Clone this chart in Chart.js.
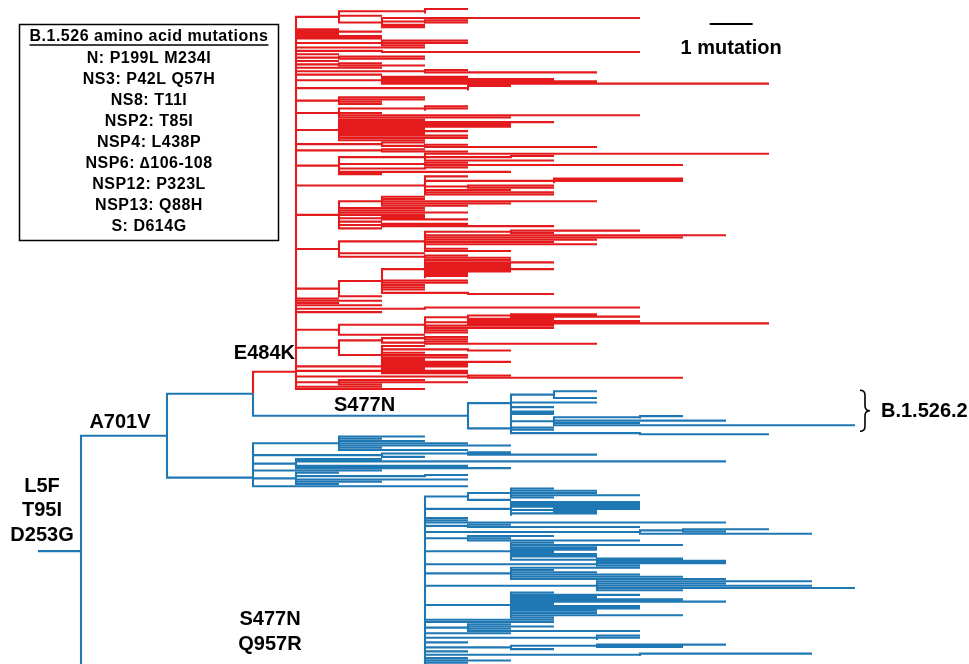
<!DOCTYPE html>
<html>
<head>
<meta charset="utf-8">
<script src="https://cdn.jsdelivr.net/npm/chart.js@4.4.1/dist/chart.umd.min.js"></script>
<style>
  html, body { margin: 0; padding: 0; background: #fff; }
  #box { width: 969px; height: 664px; }
</style>
</head>
<body>
<div id="box"><canvas id="chart" width="969" height="664"></canvas></div>
<script>
// branch lengths in mutations: a number is a tip, [length, ...children] is a node
const rootLength = 1       // L5F T95I D253G
const a701vLength = 2      // A701V
const splitLength = 2      // node before E484K / S477N

// E484K lineage (red)
const redClade = [1,
  [0, [0, [0, [0,
    [1, [2, 1, 0, 0], 1, [1, 6, [1, 1, 1], 1, 1]],
    1, 2, 1, 2, 2, [2, 2, 2, 1], 3,
    [2, 0, 6],
    1, [1, 2, 2], 1, [1, 1, 2], 2,
    [3, 1, 4],
    2,
    [2, 2, 4, 5, 9],
    [4, 1, 0, 0],
    0, 0,
    [1, 2, 2, 1, 1],
    [1, [2, 1, 1, 0], 1, 7, 4],
    [1, 2, 5, 4, 4, 2, 3, 2, 3, 3, 2],
    [2, 1, [1, 1, 4]],
    [2, 1, 2],
    [1, [2, 8, [2, 1, 0], 3], [2, 1, 6], [2, 1, 0], [1, 3], 1],
    [3, 1, [3, 3, 3, 0], [1, 2, 2], 2, 3, 3],
    [1, [1, 1, 1, 5, 3, 2], 2, 2, 3, 2, [1, 1, 2], 1, [1, 2, 4], 1],
    [1, [2, [2, [1, 2], 1], 7, 6, 4, 3, 4, 0, 1, 2], 2, [2, 1, 2]],
    [1, [1, [1, 2, 3, 2, 2, 3, 2, 1, 1, 0], 2, 2, 1, 1, 1, [2, 0, 2]], 1],
    1, 2, 1, 2, [3, 5, 0], 2,
    [1, [2, [1, [1, 2, 3], 2], [1, 4, 7], 3, 3, 1, 1], 2],
    [1, [1, [1, 1, 1], [1, 1, 4]], [1, 1, [2, 0, 1], 1, 2, 2, 1, 3, 2]]],
    4, [2, 1, 2, 2]],
    [2, [2, 1, 5]]],
    [1, 2, 3, 1]],
  2, 3]

// S477N lineage, B.1.526.2
const b15262Clade = [5,
  [1, [1, 1, 0, 0, 1], 0, 2, 0, 1, 0, 1],
  [1, [0, [0, 1, [1, [2, 1, 0], 4, 2, 7]], 1, 1], [3, 0, 3]]]

// other A701V descendants
const midClade = [2,
  [0, [0, [0,
    [2, 2, 1, 2, 3, 4, 1, 3],
    [3, [2, 1, 3], 1]],
    [1, 2, 10, 0, 4, 5],
    3],
    [1, 1, [3, 1, 0], 4, 2, 1]],
  5]

// S477N Q957R lineage (runs off the bottom)
const bottomClade = [8,
  [0, [0, [0, [0,
    [0,
      [1, [1, 1, 2, 2, 3, 1], 1],
      [2, 3, 3, 3, [1, 2, 1], 2, 0],
      1, 1,
      7,
      [1, 1, 4],
      [5, [1, [1, 1], 1], 4],
      [1, 2, 1, 4],
      [2, 1, 4, 2, 2, 1, 2, 2, [2, 2, 3]],
      [4, 3, 1],
      [2, 3, 1, 2, 3, 4, 5],
      [4, 5, 3, 5, 6, 2],
      [2, 1, 3, 2, 4, 5, 1, 3, 3, 2, 2, 4, 1],
      3, 3, [1, 1, 2, 1, 4], 2,
      [4, 1, 1, 0], 1,
      [2, [2, 3, 2], 1],
      1,
      [5, 4, 0],
      1, 2, 1, 4],
    1], 1], 1], 1]]

const mutationTitle = "B.1.526 amino acid mutations"
const mutationList = [
  "N: P199L M234I",
  "NS3: P42L Q57H",
  "NS8: T11I",
  "NSP2: T85I",
  "NSP4: L438P",
  "NSP6: \u2206106-108",
  "NSP12: P323L",
  "NSP13: Q88H",
  "S: D614G"
]
const rootLabels = ["L5F", "T95I", "D253G"]
const bottomLabels = ["S477N", "Q957R"]

const RED = "#e41a1c"
const BLUE = "#1f77b4"
const BOLD = "'Liberation Sans', Arial, Helvetica, sans-serif"

// layout: tips in order, node y at the middle of its first and last child
let leafCount = 0
function layout(node, parentX, red) {
  if (typeof node === "number") {
    return {x: parentX + node, y: leafCount++, kids: [], red}
  }
  let x = parentX + node[0]
  let isRed = red || node === redClade
  let kids = node.slice(1).map(c => layout(c, x, isRed))
  return {x, y: (kids[0].y + kids[kids.length - 1].y) / 2, kids, red: isRed}
}

let tree = [rootLength, [a701vLength, [splitLength, redClade, b15262Clade], midClade], bottomClade]
let root = layout(tree, 0, false)
let nA701V = root.kids[0]
let nSplit = nA701V.kids[0]
let nRed = nSplit.kids[0]
let nB = nSplit.kids[1]
let nBottom = root.kids[1]

function leaves(n) { return n.kids.length ? n.kids.flatMap(leaves) : [n] }
let redLeaves = leaves(nRed)
let bLeaves = leaves(nB)

let redPts = [], bluePts = []
function elbow(pts, p, n) {
  pts.push({x: p.x, y: p.y}, {x: p.x, y: n.y}, {x: n.x, y: n.y}, {x: null, y: null})
}
function walk(n) {
  for (let k of n.kids) {
    elbow(k.red ? redPts : bluePts, n, k)
    walk(k)
  }
}
bluePts.push({x: 0, y: root.y}, {x: root.x, y: root.y}, {x: null, y: null})
walk(root)

// 1 mutation = 43px, first tip 9px from top, red tips spread down to 389px
let xMin = -38 / 43
let step = (389 - 9) / (redLeaves.length - 1)
let yMin = -9 / step

const textPlugin = {
  id: "treeText",
  afterDraw(chart) {
    let ctx = chart.ctx
    let X = v => chart.scales.x.getPixelForValue(v)
    let Y = v => chart.scales.y.getPixelForValue(v)
    ctx.save()
    ctx.fillStyle = "#000"
    ctx.strokeStyle = "#000"
    ctx.textAlign = "center"
    ctx.textBaseline = "middle"

    ctx.font = "bold 20px " + BOLD
    let sy = Y(root.y)
    rootLabels.forEach((t, i) => ctx.fillText(t, X(0) + 4, sy - 65 + i * 24.5))
    ctx.fillText("A701V", (X(root.x) + X(nA701V.x)) / 2 - 4, Y(nA701V.y) - 13.5)
    ctx.fillText("S477N", (X(nSplit.x) + X(nB.x)) / 2 + 4, Y(nB.y) - 10)
    ctx.textAlign = "right"
    ctx.fillText("E484K", X(nRed.x) - 1, Y(nRed.y) - 18)
    ctx.textAlign = "center"
    let by = Y(nBottom.y)
    bottomLabels.forEach((t, i) => ctx.fillText(t, (X(root.x) + X(nBottom.x)) / 2 + 17, by - 47 + i * 25))

    // brace for B.1.526.2
    let maxTip = Math.max(...bLeaves.map(l => l.x))
    let bx = X(maxTip) + 5
    let y0 = Y(bLeaves[0].y) - 1, y1 = Y(bLeaves[bLeaves.length - 1].y) - 3
    let ym = (y0 + y1) / 2, w = 10, r = 5
    ctx.lineWidth = 1.6
    ctx.beginPath()
    ctx.moveTo(bx, y0)
    ctx.quadraticCurveTo(bx + w / 2, y0, bx + w / 2, y0 + r)
    ctx.lineTo(bx + w / 2, ym - r)
    ctx.quadraticCurveTo(bx + w / 2, ym, bx + w, ym)
    ctx.quadraticCurveTo(bx + w / 2, ym, bx + w / 2, ym + r)
    ctx.lineTo(bx + w / 2, y1 - r)
    ctx.quadraticCurveTo(bx + w / 2, y1, bx, y1)
    ctx.stroke()
    ctx.textAlign = "left"
    ctx.fillText("B.1.526.2", bx + w + 11, ym + 1)

    // scale bar
    ctx.lineWidth = 2
    ctx.beginPath()
    ctx.moveTo(X(15.62), 24)
    ctx.lineTo(X(16.62), 24)
    ctx.stroke()
    ctx.textAlign = "center"
    ctx.fillText("1 mutation", (X(15.62) + X(16.62)) / 2, 48)

    // mutation box
    ctx.lineWidth = 1.5
    ctx.strokeRect(19.5, 24.5, 259, 216)
    ctx.font = "bold 16px " + BOLD
    if ("letterSpacing" in ctx) ctx.letterSpacing = "0.5px"
    let cx = 149
    ctx.fillText(mutationTitle, cx, 37)
    let tw = ctx.measureText(mutationTitle).width
    ctx.lineWidth = 1.3
    ctx.beginPath()
    ctx.moveTo(cx - tw / 2, 45)
    ctx.lineTo(cx + tw / 2, 45)
    ctx.stroke()
    mutationList.forEach((t, i) => ctx.fillText(t, cx, 37 + (i + 1) * 21.1))
    ctx.restore()
  }
}

let chart = new Chart(document.getElementById("chart").getContext("2d"), {
  type: "scatter",
  data: {
    datasets: [
      {data: bluePts, borderColor: BLUE},
      {data: redPts, borderColor: RED}
    ].map(d => Object.assign(d, {
      showLine: true, spanGaps: false, pointRadius: 0, borderWidth: 2.1,
      borderCapStyle: "butt", borderJoinStyle: "miter"
    }))
  },
  options: {
    responsive: false,
    maintainAspectRatio: false,
    animation: false,
    events: [],
    layout: {padding: 0},
    plugins: {legend: {display: false}, tooltip: {enabled: false}},
    scales: {
      x: {type: "linear", display: false, min: xMin, max: xMin + 969 / 43},
      y: {type: "linear", display: false, reverse: true, min: yMin, max: yMin + 664 / step}
    }
  },
  plugins: [textPlugin]
})
</script>
</body>
</html>
